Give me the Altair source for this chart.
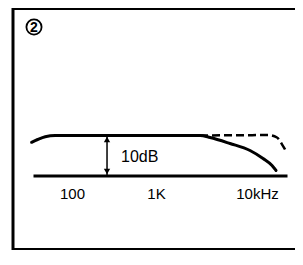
import altair as alt
import pandas as pd

# Response curves (frequency in Hz, level in dB relative to flat level)
solid_freq = [33, 39, 48, 63, 3340, 4400, 7600, 13150, 18800, 24050, 26840]
solid_db = [-1.7, -1.0, -0.3, 0, 0, -0.5, -2.0, -3.75, -5.75, -7.5, -8.75]
dashed_freq = [3340, 21540, 27560, 31620, 34360]
dashed_db = [0, 0.1, -0.5, -2.2, -3.5]

tick_values = [100, 1000, 10000]
tick_labels = ["100", "1K", "10kHz"]

arrow_freq = 261
arrow_top_db = 0
arrow_bottom_db = -10
note_text = "10dB"
note_freq = 383
note_db = -5.4
badge_text = "2"

FONT = "Liberation Sans"

solid_df = pd.DataFrame({"f": solid_freq, "db": solid_db})
dashed_df = pd.DataFrame({"f": dashed_freq, "db": dashed_db})
arrow_df = pd.DataFrame({"f": [arrow_freq], "y1": [arrow_top_db], "y2": [arrow_bottom_db]})
note_df = pd.DataFrame({"f": [note_freq], "db": [note_db], "t": [note_text]})

label_expr = " : ".join(
    f"datum.value == {v} ? '{t}'" for v, t in zip(tick_values[:-1], tick_labels[:-1])
) + f" : '{tick_labels[-1]}'"

xscale = alt.Scale(type="log", domain=[34.3, 36260], nice=False)
yscale = alt.Scale(domain=[-10, 0], range=[167.5, 127.5], nice=False, zero=False)

xaxis = alt.Axis(
    values=tick_values,
    labelExpr=label_expr,
    title=None,
    grid=False,
    ticks=False,
    domain=True,
    domainColor="black",
    domainWidth=3,
    labelFont=FONT,
    labelFontSize=15,
    labelColor="black",
    labelPadding=11,
    labelFlush=False,
    labelOverlap=False,
    labelOffset={"condition": {"test": "datum.value == 10000", "value": 17}, "value": 0},
)

solid = alt.Chart(solid_df).mark_line(
    color="black", strokeWidth=3, interpolate="monotone", strokeCap="round"
).encode(
    x=alt.X("f:Q", scale=xscale, axis=xaxis),
    y=alt.Y("db:Q", scale=yscale, axis=None),
)

dashed = alt.Chart(dashed_df).mark_line(
    color="black", strokeWidth=2.5, interpolate="monotone", strokeDash=[8, 4]
).encode(
    x=alt.X("f:Q", scale=xscale, axis=xaxis),
    y=alt.Y("db:Q", scale=yscale, axis=None),
)

shaft = alt.Chart(arrow_df).mark_rule(color="black", strokeWidth=1.5).encode(
    x=alt.X("f:Q", scale=xscale, axis=xaxis),
    y=alt.Y("y1:Q", scale=yscale, axis=None),
    y2="y2:Q",
)

head_up = alt.Chart(arrow_df).mark_point(
    shape="triangle-up", filled=True, color="black", size=40, opacity=1, yOffset=4
).encode(
    x=alt.X("f:Q", scale=xscale, axis=xaxis),
    y=alt.Y("y1:Q", scale=yscale, axis=None),
)

head_down = alt.Chart(arrow_df).mark_point(
    shape="triangle-down", filled=True, color="black", size=40, opacity=1, yOffset=-4
).encode(
    x=alt.X("f:Q", scale=xscale, axis=xaxis),
    y=alt.Y("y2:Q", scale=yscale, axis=None),
)

note = alt.Chart(note_df).mark_text(
    align="left", baseline="middle", font=FONT, fontSize=16, color="black"
).encode(
    x=alt.X("f:Q", scale=xscale, axis=xaxis),
    y=alt.Y("db:Q", scale=yscale, axis=None),
    text="t:N",
)

frame_df = pd.DataFrame({"k": [0]})
left_border = alt.Chart(frame_df).mark_rule(color="black", strokeWidth=3).encode(
    x=alt.value(-20), y=alt.value(0), y2=alt.value(242)
)
top_border = alt.Chart(frame_df).mark_rule(color="black", strokeWidth=2).encode(
    x=alt.value(-21), x2=alt.value(262), y=alt.value(1)
)
bottom_border = alt.Chart(frame_df).mark_rule(color="black", strokeWidth=2).encode(
    x=alt.value(-21), x2=alt.value(262), y=alt.value(241)
)

badge_df = pd.DataFrame({"t": [badge_text]})
badge_circle = alt.Chart(badge_df).mark_point(
    shape="circle", size=230, color="black", strokeWidth=1.8, filled=False, opacity=1
).encode(x=alt.value(1), y=alt.value(19))
badge_num = alt.Chart(badge_df).mark_text(
    font=FONT, fontSize=14, fontWeight="bold", color="black", align="center", baseline="middle"
).encode(x=alt.value(1), y=alt.value(19.5), text="t:N")

chart = alt.layer(
    left_border, top_border, bottom_border, badge_circle, badge_num,
    solid, dashed, shaft, head_up, head_down, note,
).properties(
    width=254,
    height=167.5,
    padding={"left": 25, "top": 0, "right": 8, "bottom": 74.5},
    autosize=alt.AutoSizeParams(type="none"),
    background="white",
).configure_view(stroke=None)

chart.save("out.html", embed_options={"renderer": "svg", "actions": False})
